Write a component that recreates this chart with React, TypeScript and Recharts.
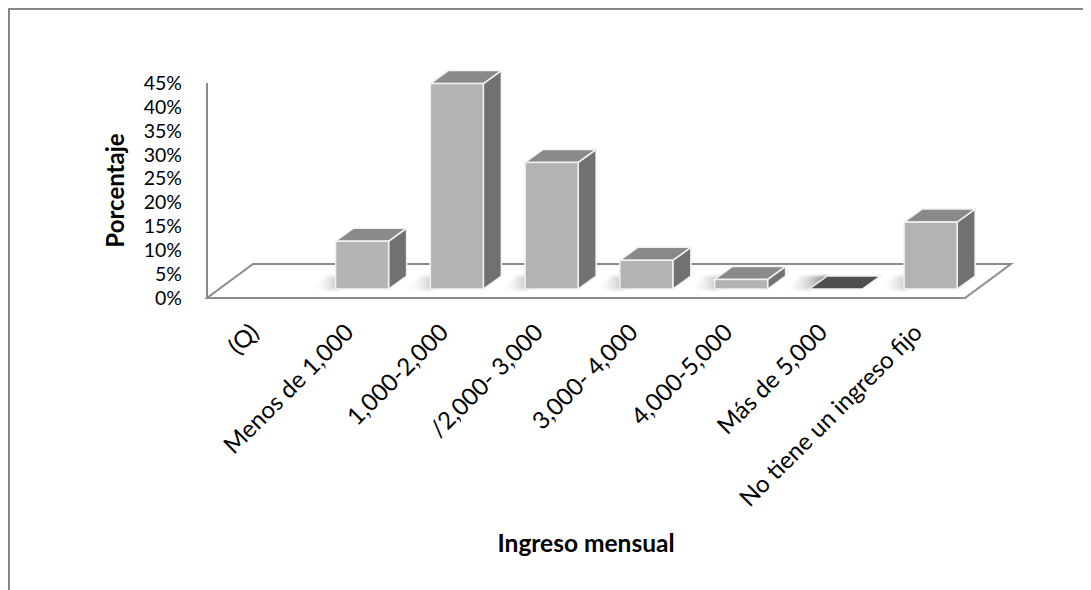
import React from 'react';
import { BarChart, Bar, XAxis, YAxis, ReferenceArea, Label } from 'recharts';

const categories = [
  '(Q)',
  'Menos de 1,000',
  '1,000-2,000',
  '/2,000- 3,000',
  '3,000- 4,000',
  '4,000-5,000',
  'Más de 5,000',
  'No tiene un ingreso fijo',
];
const shares: (number | null)[] = [null, 0.1, 0.43, 0.265, 0.06, 0.02, 0, 0.14];
const yTicks = [0, 0.05, 0.1, 0.15, 0.2, 0.25, 0.3, 0.35, 0.4, 0.45];

const data = categories.map((name, i) => ({ name, value: shares[i] }));

const FONT = 'Lato, sans-serif';

// oblique projection used for the fake 3D look
const FLOOR_DX = 46;
const FLOOR_DY = -34;
const BAR_SHIFT_X = 13;
const BAR_SHIFT_Y = -9;
const BAR_DX = 18;
const BAR_DY = -13;

const pts = (p: number[][]) => p.map((q) => q.join(',')).join(' ');

const Floor = (props: any) => {
  const { x, y, width, height } = props;
  const fy = y + height;
  return (
    <polygon
      points={pts([
        [x, fy],
        [x + width, fy],
        [x + width + FLOOR_DX, fy + FLOOR_DY],
        [x + FLOOR_DX, fy + FLOOR_DY],
      ])}
      fill="#fff"
      stroke="#8c8c8c"
      strokeWidth={2}
    />
  );
};

const Box3D = (props: any) => {
  const { x, y, width, height, payload } = props;
  if (payload == null || payload.value == null) return <g />;
  const fx = x + BAR_SHIFT_X;
  const fy = y + BAR_SHIFT_Y;
  const w = width;
  const h = height;
  const base = fy + h;
  const shadow = (
    <polygon
      points={pts([
        [fx - 26, base + 1],
        [fx + 2, base + 1],
        [fx + BAR_DX + 2, base + BAR_DY],
        [fx + BAR_DX - 26, base + BAR_DY],
      ])}
      fill="url(#floorShadow)"
      filter="url(#soft)"
    />
  );
  if (h < 0.5) {
    return (
      <g>
        {shadow}
        <polygon
          points={pts([
            [fx, base],
            [fx + w, base],
            [fx + w + BAR_DX, base + BAR_DY],
            [fx + BAR_DX, base + BAR_DY],
          ])}
          fill="#4f4f4f"
          stroke="#f2f2f2"
          strokeWidth={1.5}
        />
      </g>
    );
  }
  return (
    <g>
      {shadow}
      <polygon
        points={pts([
          [fx + w, fy],
          [fx + w + BAR_DX, fy + BAR_DY],
          [fx + w + BAR_DX, base + BAR_DY],
          [fx + w, base],
        ])}
        fill="#717171"
        stroke="#f2f2f2"
        strokeWidth={1.5}
      />
      <polygon
        points={pts([
          [fx, fy],
          [fx + w, fy],
          [fx + w + BAR_DX, fy + BAR_DY],
          [fx + BAR_DX, fy + BAR_DY],
        ])}
        fill="#8a8a8a"
        stroke="#f2f2f2"
        strokeWidth={1.5}
      />
      <rect x={fx} y={fy} width={w} height={h} fill="#b3b3b3" stroke="#f2f2f2" strokeWidth={1.5} />
    </g>
  );
};

const CategoryTick = (props: any) => {
  const { x, y, payload } = props;
  return (
    <g transform={`translate(${x + 6},${y + 28})`}>
      <text
        x={0}
        y={0}
        transform="rotate(-45)"
        textAnchor="end"
        fill="#000"
        fontSize={24}
        fontFamily={FONT}
      >
        {payload.value}
      </text>
    </g>
  );
};

const App: React.FC = () => {
  return (
    <div style={{ position: 'relative', width: 1083, height: 582 }}>
      <div
        style={{
          position: 'absolute',
          left: 0,
          top: 0,
          width: 1083,
          height: 582,
          boxSizing: 'border-box',
          borderTop: '2px solid #868686',
          borderLeft: '2px solid #868686',
        }}
      />
      <div style={{ position: 'absolute', left: -8, top: -8 }}>
        <BarChart
          width={1091}
          height={590}
          data={data}
          margin={{ top: 83, right: 126, left: 147, bottom: 192 }}
          barCategoryGap="22%"
        >
          <defs>
            <linearGradient id="floorShadow" x1="0" y1="0" x2="1" y2="0">
              <stop offset="0%" stopColor="#ffffff" stopOpacity={0} />
              <stop offset="100%" stopColor="#666666" stopOpacity={0.95} />
            </linearGradient>
            <filter id="soft" x="-20%" y="-50%" width="140%" height="200%">
              <feGaussianBlur stdDeviation="1.5" />
            </filter>
          </defs>
          <ReferenceArea y1={0} y2={0.45} shape={<Floor />} zIndex={-10} ifOverflow="visible" />
          <XAxis
            dataKey="name"
            interval={0}
            axisLine={false}
            tickLine={false}
            height={100}
            tick={<CategoryTick />}
          >
            <Label
              content={(p: any) => (
                <text
                  x={p.viewBox.x + p.viewBox.width / 2}
                  y={p.viewBox.y + 254}
                  textAnchor="middle"
                  fontSize={24.5}
                  fontWeight="bold"
                  fontFamily={FONT}
                  fill="#000"
                >
                  Ingreso mensual
                </text>
              )}
            />
          </XAxis>
          <YAxis
            width={60}
            domain={[0, 0.45]}
            ticks={yTicks}
            interval={0}
            tickFormatter={(v: number) => `${Math.round(v * 100)}%`}
            tickLine={false}
            tickSize={6}
            tickMargin={19}
            axisLine={{ stroke: '#8c8c8c', strokeWidth: 2 }}
            tick={{ fill: '#000', fontSize: 19.5, fontFamily: FONT }}
          >
            <Label
              content={(p: any) => {
                const cx = p.viewBox.x - 33;
                const cy = p.viewBox.y + p.viewBox.height / 2;
                return (
                  <text
                    x={cx}
                    y={cy}
                    transform={`rotate(-90, ${cx}, ${cy})`}
                    textAnchor="middle"
                    dominantBaseline="central"
                    fontSize={24}
                    fontWeight="bold"
                    fontFamily={FONT}
                    fill="#000"
                  >
                    Porcentaje
                  </text>
                );
              }}
            />
          </YAxis>
          <Bar dataKey="value" shape={<Box3D />} isAnimationActive={false} />
        </BarChart>
      </div>
    </div>
  );
};

export default App;
